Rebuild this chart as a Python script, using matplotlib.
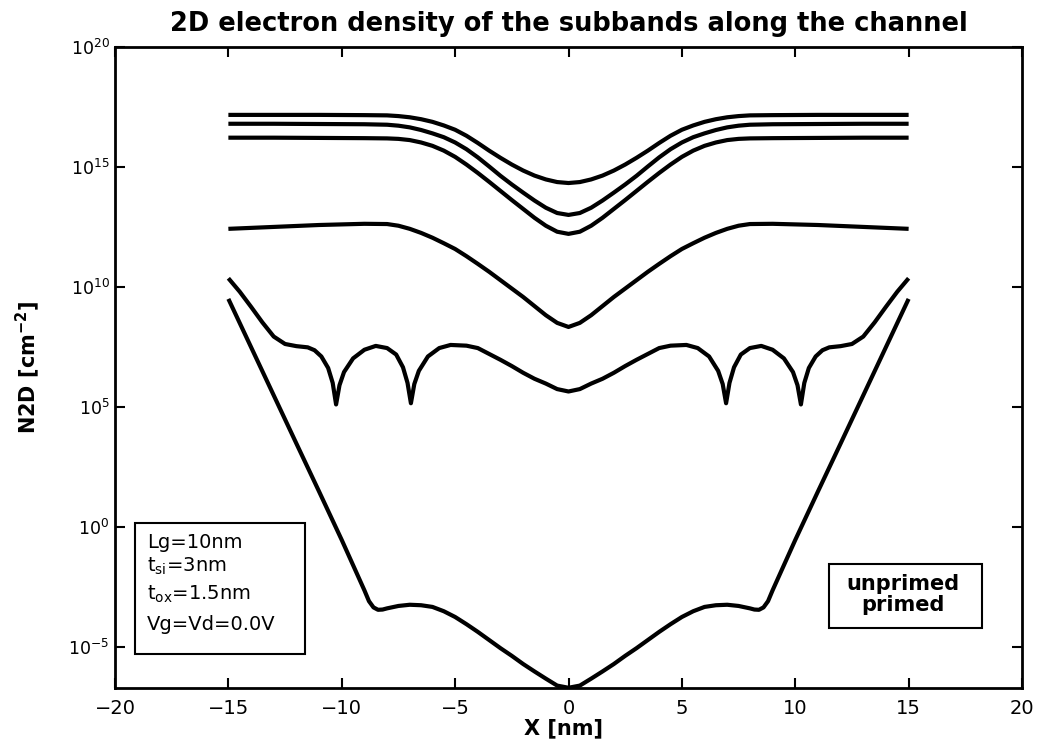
import numpy as np
import matplotlib
matplotlib.use('Agg')
import matplotlib.pyplot as plt
from matplotlib.patches import Rectangle

plt.rcParams['font.family'] = ['DejaVu Sans']
plt.rcParams['mathtext.fontset'] = 'dejavusans'

# ---------------- data (log10 of N2D) ----------------
x_upper = [-15, -13, -11, -9, -8, -7.5, -7, -6.5, -6, -5.5, -5, -4.5, -4, -3.5, -3, -2.5, -2, -1.5, -1, -0.5,
           0, 0.5, 1, 1.5, 2, 2.5, 3, 3.5, 4, 4.5, 5, 5.5, 6, 6.5, 7, 7.5, 8, 9, 11, 13, 15]

band1_log = [17.17, 17.17, 17.17, 17.16, 17.15, 17.12, 17.07, 16.99, 16.88, 16.73, 16.55, 16.30, 16.00, 15.68,
             15.38, 15.10, 14.85, 14.64, 14.48, 14.37, 14.33, 14.37, 14.48, 14.64, 14.85, 15.10, 15.38, 15.68,
             16.00, 16.30, 16.55, 16.73, 16.88, 16.99, 17.07, 17.12, 17.15, 17.16, 17.17, 17.17, 17.17]

band2_log = [16.80, 16.80, 16.79, 16.78, 16.76, 16.72, 16.65, 16.54, 16.40, 16.24, 16.02, 15.74, 15.40, 15.02,
             14.63, 14.27, 13.93, 13.60, 13.30, 13.08, 13.00, 13.08, 13.30, 13.60, 13.93, 14.27, 14.63, 15.02,
             15.40, 15.74, 16.02, 16.24, 16.40, 16.54, 16.65, 16.72, 16.76, 16.78, 16.79, 16.80, 16.80]

band3_log = [16.22, 16.22, 16.21, 16.20, 16.19, 16.17, 16.12, 16.02, 15.88, 15.68, 15.42, 15.10, 14.75, 14.38,
             14.00, 13.62, 13.25, 12.88, 12.55, 12.30, 12.21, 12.30, 12.55, 12.88, 13.25, 13.62, 14.00, 14.38,
             14.75, 15.10, 15.42, 15.68, 15.88, 16.02, 16.12, 16.17, 16.19, 16.20, 16.21, 16.22, 16.22]

band4_log = [12.42, 12.50, 12.58, 12.63, 12.62, 12.55, 12.42, 12.25, 12.05, 11.82, 11.58, 11.28, 10.96, 10.63,
             10.28, 9.93, 9.58, 9.20, 8.82, 8.50, 8.33, 8.50, 8.82, 9.20, 9.58, 9.93, 10.28, 10.63,
             10.96, 11.28, 11.58, 11.82, 12.05, 12.25, 12.42, 12.55, 12.62, 12.63, 12.58, 12.50, 12.42]

x_band5 = [-15, -14.5, -14, -13.5, -13, -12.5, -12, -11.5, -11.2, -10.9, -10.6, -10.4, -10.25, -10.1, -9.9,
           -9.5, -9.0, -8.5, -8.0, -7.6, -7.3, -7.1, -6.95, -6.8, -6.6, -6.2, -5.7, -5.2, -4.5, -4.0, -3.0,
           -2.5, -2.0, -1.5, -1.0, -0.5, 0,
           0.5, 1.0, 1.5, 2.0, 2.5, 3.0, 4.0, 4.5, 5.2, 5.7, 6.2, 6.6, 6.8, 6.95, 7.1, 7.3, 7.6, 8.0, 8.5,
           9.0, 9.5, 9.9, 10.1, 10.25, 10.4, 10.6, 10.9, 11.2, 11.5, 12, 12.5, 13, 13.5, 14, 14.5, 15]
band5_log = [10.36, 9.80, 9.17, 8.52, 7.93, 7.62, 7.53, 7.48, 7.36, 7.10, 6.62, 6.00, 5.10, 5.90, 6.45,
             7.02, 7.38, 7.54, 7.45, 7.18, 6.65, 6.00, 5.15, 5.95, 6.50, 7.10, 7.45, 7.58, 7.55, 7.45, 6.96,
             6.70, 6.42, 6.17, 5.97, 5.74, 5.64,
             5.74, 5.97, 6.17, 6.42, 6.70, 6.96, 7.45, 7.55, 7.58, 7.45, 7.10, 6.50, 5.95, 5.15, 6.00, 6.65,
             7.18, 7.45, 7.54, 7.38, 7.02, 6.45, 5.90, 5.10, 6.00, 6.62, 7.10, 7.36, 7.48, 7.53, 7.62, 7.93,
             8.52, 9.17, 9.80, 10.36]

x_band6 = [-15, -14, -13, -12, -11, -10, -9.5, -9, -8.8, -8.6, -8.4, -8.2, -8.0, -7.5, -7.0, -6.5, -6.0,
           -5.5, -5.0, -4.5, -4.0, -3.5, -3.0, -2.5, -2.0, -1.5, -1.0, -0.5, 0,
           0.5, 1.0, 1.5, 2.0, 2.5, 3.0, 3.5, 4.0, 4.5, 5.0, 5.5, 6.0, 6.5, 7.0, 7.5, 8.0, 8.2, 8.4, 8.6,
           8.8, 9, 9.5, 10, 11, 12, 13, 14, 15]
band6_log = [9.50, 7.49, 5.48, 3.47, 1.47, -0.55, -1.60, -2.65, -3.10, -3.36, -3.46, -3.45, -3.40, -3.30,
             -3.25, -3.27, -3.34, -3.52, -3.76, -4.06, -4.38, -4.72, -5.06, -5.38, -5.72, -6.03, -6.33,
             -6.62, -6.71,
             -6.62, -6.33, -6.03, -5.72, -5.38, -5.06, -4.72, -4.38, -4.06, -3.76, -3.52, -3.34, -3.27,
             -3.25, -3.30, -3.40, -3.45, -3.46, -3.36, -3.10, -2.65, -1.60, -0.55, 1.47, 3.47, 5.48, 7.49,
             9.50]

x_ticks = [-20, -15, -10, -5, 0, 5, 10, 15, 20]
y_tick_exps = [-5, 0, 5, 10, 15, 20]

info_lines = ['Lg=10nm', r't$_{\mathrm{si}}$=3nm', r't$_{\mathrm{ox}}$=1.5nm', 'Vg=Vd=0.0V']
legend_lines = ['unprimed', 'primed']

# ---------------- figure ----------------
W, H = 1039, 749
fig = plt.figure(figsize=(W / 100, H / 100), dpi=100)
fig.patch.set_facecolor('white')

L, R, T, B = 115, 1022, 47, 688
ax = fig.add_axes([L / W, 1 - B / H, (R - L) / W, (B - T) / H])

lw = 3.0
for yl in [band1_log, band2_log, band3_log, band4_log]:
    ax.plot(x_upper, 10 ** np.array(yl), color='black', lw=lw, solid_capstyle='butt', solid_joinstyle='round')
ax.plot(x_band5, 10 ** np.array(band5_log), color='black', lw=lw, solid_capstyle='butt', solid_joinstyle='round')
ax.plot(x_band6, 10 ** np.array(band6_log), color='black', lw=lw, solid_capstyle='butt', solid_joinstyle='round')

ax.set_yscale('log')
ax.set_xlim(-20, 20)
ax.set_ylim(10 ** -6.72, 1e20)
ax.set_xticks(x_ticks)
ax.set_xticklabels([('\u2212%d' % abs(v)) if v < 0 else '%d' % v for v in x_ticks])
ax.set_yticks([10.0 ** e for e in y_tick_exps])
ax.set_yticklabels([r'$10^{%d}$' % e for e in y_tick_exps])
ax.yaxis.set_minor_locator(matplotlib.ticker.NullLocator())

ax.tick_params(axis='both', which='major', direction='in', top=True, right=True,
               length=7, width=1.5, color='black')
ax.tick_params(axis='x', labelsize=14, pad=8)
ax.tick_params(axis='y', labelsize=12.5, pad=4)
for s in ax.spines.values():
    s.set_linewidth(2.0)
    s.set_color('black')

# titles / labels
fig.text(569 / W, 1 - 31 / H, '2D electron density of the subbands along the channel',
         ha='center', va='baseline', fontsize=18.5, fontweight='bold')
fig.text(563 / W, 1 - 728 / H, 'X [nm]', ha='center', va='center', fontsize=15, fontweight='bold')
fig.text(28 / W, 1 - 367 / H, r'N2D [cm$^{\mathbf{-2}}$]', ha='center', va='center', rotation=90,
         fontsize=15, fontweight='bold')

# info box (left)
fig.patches.append(Rectangle((135 / W, 1 - 654 / H), 170 / W, 131 / H, transform=fig.transFigure,
                             fill=False, edgecolor='black', lw=1.5))
for txt, yc in zip(info_lines, [543, 566, 594, 625]):
    fig.text(147 / W, 1 - yc / H, txt, ha='left', va='center', fontsize=14)

# legend-like box (right)
fig.patches.append(Rectangle((829 / W, 1 - 628 / H), 153 / W, 64 / H, transform=fig.transFigure,
                             fill=False, edgecolor='black', lw=1.5))
for txt, yc in zip(legend_lines, [584, 605]):
    fig.text(903 / W, 1 - yc / H, txt, ha='center', va='center', fontsize=15, fontweight='bold')

fig.savefig('out.png', dpi=100, facecolor='white')
